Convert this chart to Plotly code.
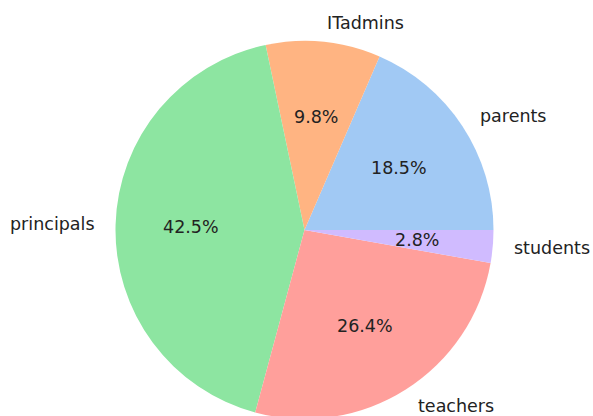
import math
import plotly.graph_objects as go

labels = ["parents", "ITadmins", "principals", "teachers", "students"]
values = [18.5, 9.8, 42.5, 26.4, 2.8]
colors = ["#a1c9f4", "#ffb482", "#8de5a1", "#ff9f9b", "#d0bbff"]

# figure is a few px taller than the 416 px window so the pie bottom is cut off as in the reference
W, H = 593, 420
cx_px, cy_px, r_px = 304.5, 230.0, 189.0  # pie centre (px from top-left) and radius

dom_x = [(cx_px - r_px) / W, (cx_px + r_px) / W]
dom_y = [max(0.0, (H - cy_px - r_px) / H), min(1.0, (H - cy_px + r_px) / H)]

total = sum(values)
# plotly counterclockwise: first slice ends at `rotation`; shift so it starts at 3 o'clock
rotation = 90 - values[0] / total * 360.0

fig = go.Figure(go.Pie(
    labels=labels, values=values, sort=False,
    direction="counterclockwise", rotation=rotation,
    marker=dict(colors=colors, line=dict(width=0)),
    textinfo="none", hoverinfo="label+percent",
    domain=dict(x=dom_x, y=dom_y), showlegend=False,
))

lab_r = 1.1 * r_px
pct_r = 0.6 * r_px
annotations = []
start = 0.0
for lab, v in zip(labels, values):
    ang = start + v / total * 360.0 / 2
    start += v / total * 360.0
    a = math.radians(ang)
    c, s = math.cos(a), math.sin(a)
    lx = cx_px + lab_r * c
    ly = cy_px - lab_r * s
    annotations.append(dict(
        x=lx / W, y=(H - ly) / H, xref="paper", yref="paper",
        text=lab, showarrow=False,
        xanchor="left" if c > 0 else "right", yanchor="middle",
        font=dict(size=17.5, color="#222", family="DejaVu Sans"),
    ))
    px = cx_px + pct_r * c
    py = cy_px - pct_r * s
    annotations.append(dict(
        x=px / W, y=(H - py) / H, xref="paper", yref="paper",
        text=f"{v / total * 100:.1f}%", showarrow=False,
        xanchor="center", yanchor="middle",
        font=dict(size=17.5, color="#222", family="DejaVu Sans"),
    ))

fig.update_layout(
    width=W, height=H,
    margin=dict(l=0, r=0, t=0, b=0),
    paper_bgcolor="white", plot_bgcolor="white",
    annotations=annotations,
)

fig.write_html(
    "out.html",
    config={"displayModeBar": False},
    post_script="document.body.style.margin='0';document.body.style.overflow='hidden';",
)
